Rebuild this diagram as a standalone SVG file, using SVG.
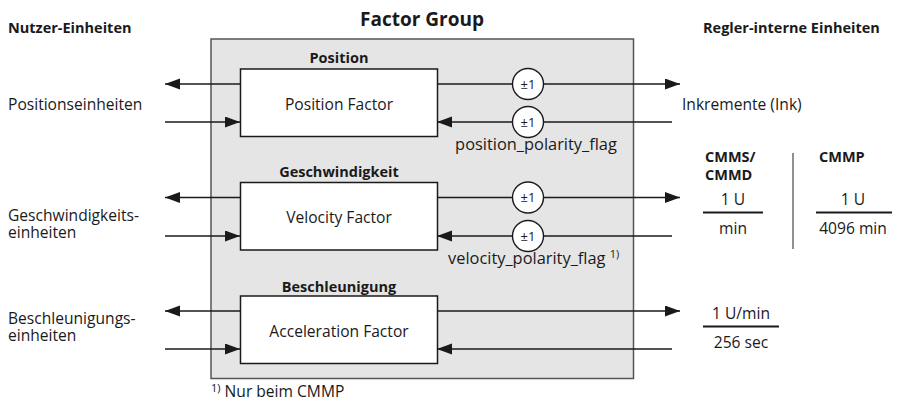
<svg xmlns="http://www.w3.org/2000/svg" width="897" height="401" viewBox="0 0 897 401">
<style>
text{font-family:"Open Sans","Noto Sans","Liberation Sans",sans-serif;fill:#1a1a1a}
.t{font-size:15.6px}
.f{font-size:16.4px}
.b{font-size:14.5px;font-weight:bold}
.c{text-anchor:middle}
.box{fill:#fff;stroke:#1a1a1a;stroke-width:1.5}
.arr{stroke:#1a1a1a;stroke-width:1.4;fill:none;marker-end:url(#ah)}
.sg{fill:#fff;stroke:#1a1a1a;stroke-width:1.4}
.st{font-size:13px;text-anchor:middle}
.fr{stroke:#1a1a1a;stroke-width:2}
</style>
<defs>
<marker id="ah" markerUnits="userSpaceOnUse" markerWidth="16" markerHeight="12" refX="15" refY="5.5" orient="auto">
<path d="M0,0 L15,5.5 L0,11 z" fill="#1a1a1a"/>
</marker>
</defs>
<rect width="897" height="401" fill="#fff"/>

<g id="headers">
<text class="b" x="8" y="33">Nutzer-Einheiten</text>
<text x="422" y="26" class="c" style="font-size:19px;font-weight:bold">Factor Group</text>
<text class="b" x="703" y="33">Regler-interne Einheiten</text>
</g>

<g id="factor-group">
<rect x="211" y="39" width="422.5" height="339.5" fill="#e5e5e5" stroke="#555" stroke-width="1.5"/>
</g>

<g id="connectors">
<path class="arr" d="M240,84 H165"/>
<path class="arr" d="M165,122 H240"/>
<path class="arr" d="M437,84 H680"/>
<path class="arr" d="M672,122 H437"/>
<path class="arr" d="M240,197.5 H165"/>
<path class="arr" d="M165,236 H240"/>
<path class="arr" d="M437,197.5 H680"/>
<path class="arr" d="M672,236 H437"/>
<path class="arr" d="M240,311 H165"/>
<path class="arr" d="M165,349 H240"/>
<path class="arr" d="M437,311 H680"/>
<path class="arr" d="M672,349 H437"/>
</g>

<g id="position">
<text class="b c" x="339" y="63">Position</text>
<rect class="box" x="240.5" y="69" width="197" height="67.5"/>
<text class="t c" x="339" y="110">Position Factor</text>
</g>
<g id="velocity">
<text class="b c" x="339" y="177">Geschwindigkeit</text>
<rect class="box" x="240.5" y="182.5" width="197" height="67.5"/>
<text class="t c" x="339" y="223">Velocity Factor</text>
</g>
<g id="acceleration">
<text class="b c" x="339" y="292">Beschleunigung</text>
<rect class="box" x="240.5" y="296" width="197" height="67.5"/>
<text class="t c" x="339" y="337">Acceleration Factor</text>
</g>

<g id="sign-pos-out"><circle class="sg" cx="528" cy="84" r="15.5"/><text class="st" x="528" y="88.5">±1</text></g>
<g id="sign-pos-in"><circle class="sg" cx="528" cy="122" r="15.5"/><text class="st" x="528" y="126.5">±1</text></g>
<g id="sign-vel-out"><circle class="sg" cx="528" cy="197.5" r="15.5"/><text class="st" x="528" y="202">±1</text></g>
<g id="sign-vel-in"><circle class="sg" cx="528" cy="236" r="15.5"/><text class="st" x="528" y="240.5">±1</text></g>

<g id="flags">
<text class="f c" x="536" y="150">position_polarity_flag</text>
<text class="f" x="448" y="264">velocity_polarity_flag <tspan style="font-size:11px" dy="-6">1)</tspan></text>
</g>

<g id="user-units">
<text class="t" x="8" y="110">Positionseinheiten</text>
<text class="t" x="8" y="221">Geschwindigkeits-</text>
<text class="t" x="8" y="238">einheiten</text>
<text class="t" x="8" y="324">Beschleunigungs-</text>
<text class="t" x="8" y="341">einheiten</text>
</g>

<g id="internal-units">
<text class="t" x="682" y="110">Inkremente (Ink)</text>
<text class="b" x="705" y="162">CMMS/</text>
<text class="b" x="705" y="180">CMMD</text>
<text class="t c" x="733" y="205">1 U</text>
<line class="fr" x1="703" y1="212.5" x2="763" y2="212.5"/>
<text class="t c" x="733" y="234">min</text>
<line x1="793" y1="153" x2="793" y2="249" stroke="#555" stroke-width="1.3"/>
<text class="b" x="819" y="162">CMMP</text>
<text class="t c" x="853" y="205">1 U</text>
<line class="fr" x1="816" y1="212.5" x2="892" y2="212.5"/>
<text class="t c" x="853" y="234">4096 min</text>
<text class="t c" x="741" y="319">1 U/min</text>
<line class="fr" x1="703" y1="326.5" x2="779" y2="326.5"/>
<text class="t c" x="741" y="348">256 sec</text>
</g>

<g id="footnote">
<text class="t" x="211" y="397"><tspan style="font-size:11px" dy="-5">1)</tspan><tspan dy="5"> Nur beim CMMP</tspan></text>
</g>
</svg>
